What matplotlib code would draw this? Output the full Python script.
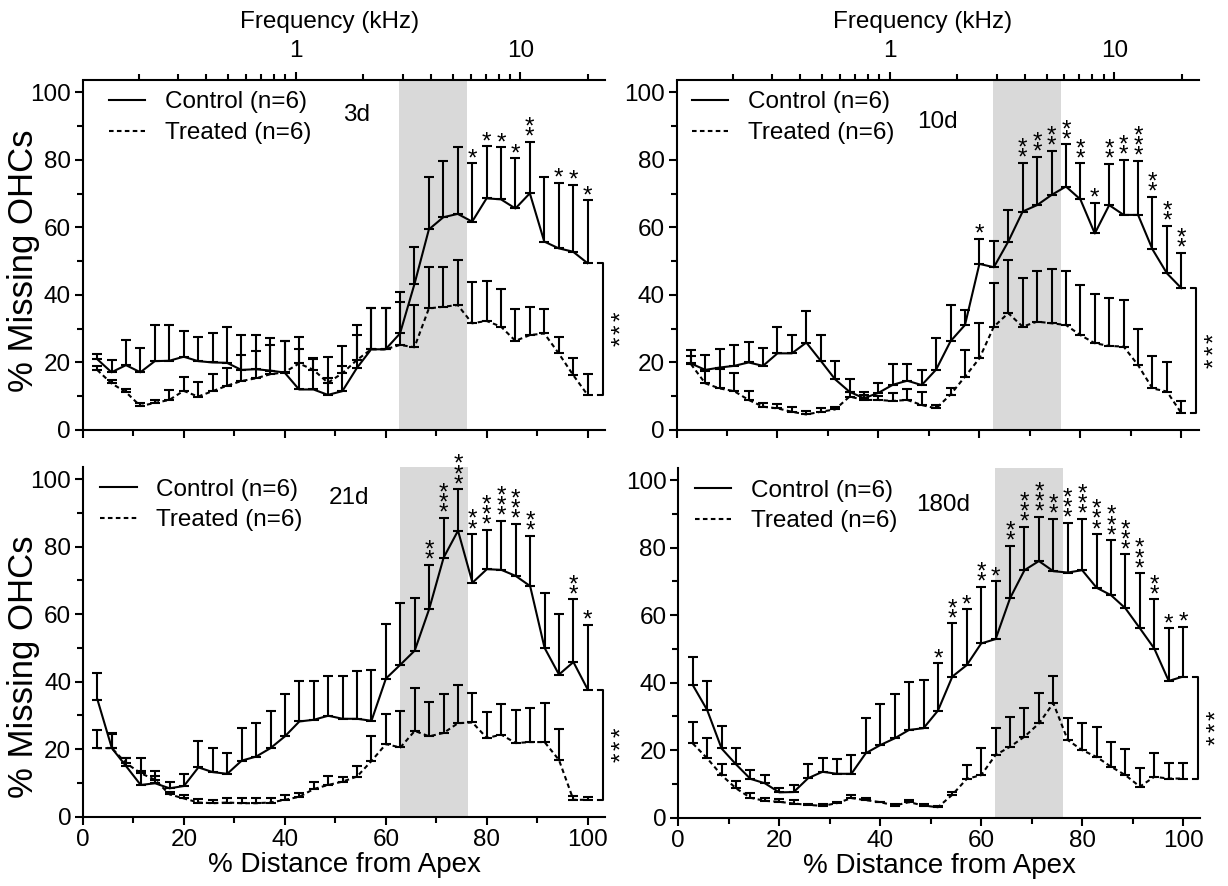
import numpy as np
import matplotlib
matplotlib.use("Agg")
import matplotlib.pyplot as plt
from matplotlib.ticker import FixedLocator, FixedFormatter, NullFormatter

plt.rcParams['font.family'] = ['Liberation Sans', 'DejaVu Sans']

# 35 bins along the cochlea, % distance from apex
distance = np.arange(1, 36) * 100.0 / 35.0

# ---- 3 days -------------------------------------------------------------
ctrl_3d = [21.0, 17.1, 19.2, 17.1, 20.4, 20.5, 21.7, 20.4, 20.0, 19.9, 17.8, 18.0,
           17.6, 17.0, 12.0, 12.0, 10.4, 11.5, 18.3, 23.9, 23.9, 28.6, 43.2, 59.4,
           63.0, 64.0, 61.7, 68.6, 68.3, 65.6, 70.1, 55.8, 53.8, 52.8, 49.4]
ctrl_sem_3d = [1.4, 3.6, 7.5, 7.1, 10.7, 10.6, 7.7, 7.0, 8.6, 10.7, 10.3, 10.1,
               9.5, 9.5, 15.6, 9.4, 11.3, 13.4, 12.8, 12.1, 12.1, 12.4, 10.9, 15.4,
               16.7, 19.9, 17.3, 15.5, 15.4, 14.9, 15.3, 19.2, 19.4, 19.8, 18.7]
trt_3d = [17.8, 13.8, 11.2, 7.1, 8.0, 8.9, 11.6, 9.9, 11.5, 13.1, 14.5, 15.3,
          16.5, 17.1, 19.7, 17.8, 14.0, 16.8, 20.7, 23.9, 23.9, 25.2, 24.5, 36.0,
          36.5, 37.0, 31.6, 32.3, 30.6, 26.4, 28.1, 28.6, 22.7, 16.3, 10.4]
trt_sem_3d = [1.2, 1.0, 0.8, 0.9, 0.9, 2.9, 4.2, 4.4, 5.0, 5.4, 7.7, 8.1,
              8.7, 9.4, 4.3, 3.2, 1.5, 2.2, 7.4, 12.1, 12.1, 12.8, 12.5, 12.2,
              11.9, 13.3, 12.3, 11.9, 11.1, 9.3, 8.4, 7.1, 4.9, 4.9, 6.1]
stars_3d = [0] * 26 + [1, 1, 1, 1, 2, 0, 1, 1, 1]

# ---- 10 days ------------------------------------------------------------
ctrl_10d = [19.7, 17.8, 18.5, 19.0, 20.0, 19.0, 22.7, 22.7, 25.9, 20.5, 15.0, 11.3,
            9.4, 11.0, 13.4, 14.6, 13.3, 17.9, 26.3, 31.1, 49.2, 48.2, 55.8, 64.7,
            66.6, 69.6, 72.1, 68.3, 58.2, 66.6, 63.7, 63.7, 53.5, 46.4, 42.0]
ctrl_sem_10d = [4.0, 4.4, 5.4, 6.2, 6.2, 5.2, 7.9, 5.3, 9.4, 7.5, 5.5, 3.7,
                2.0, 2.8, 6.0, 4.8, 4.5, 9.2, 10.7, 4.4, 7.4, 7.9, 9.4, 14.5,
                14.3, 13.1, 12.5, 10.7, 9.1, 12.2, 16.3, 16.0, 15.6, 14.1, 10.5]
trt_10d = [19.5, 13.8, 12.3, 11.5, 8.9, 6.9, 6.4, 5.4, 4.6, 5.4, 6.1, 9.9,
           8.9, 8.9, 8.6, 8.9, 7.4, 6.4, 10.5, 15.8, 21.2, 30.6, 34.6, 30.6,
           32.1, 31.6, 31.1, 28.1, 25.7, 24.9, 24.7, 19.2, 12.3, 11.4, 5.0]
trt_sem_10d = [2.5, 3.7, 5.7, 5.3, 2.6, 1.0, 1.2, 1.5, 1.0, 1.0, 0.7, 1.5,
               1.6, 1.1, 2.4, 3.1, 4.0, 1.0, 2.0, 7.9, 10.4, 13.0, 15.7, 14.5,
               15.0, 16.1, 16.0, 14.8, 14.5, 14.3, 13.8, 10.6, 9.6, 8.8, 3.7]
stars_10d = [0] * 20 + [1, 0, 0, 2, 2, 2, 2, 2, 1, 2, 2, 3, 2, 2, 2]

# ---- 21 days ------------------------------------------------------------
ctrl_21d = [34.7, 20.3, 14.9, 9.4, 9.9, 8.4, 9.1, 14.6, 13.2, 12.7, 16.6, 17.8,
            20.3, 23.8, 28.2, 28.7, 29.9, 29.0, 29.0, 28.4, 40.9, 45.0, 49.2, 61.5,
            76.7, 84.7, 69.3, 73.3, 73.1, 71.3, 68.3, 50.0, 42.1, 45.8, 37.6]
ctrl_sem_21d = [7.9, 4.5, 2.6, 8.1, 3.7, 1.8, 3.5, 7.9, 7.1, 6.1, 9.6, 9.9,
                10.9, 12.5, 11.9, 11.4, 11.9, 12.6, 14.1, 14.9, 16.2, 18.2, 15.5, 13.1,
                11.9, 12.3, 14.4, 11.7, 14.5, 15.5, 14.9, 16.3, 18.0, 18.6, 19.3]
trt_21d = [20.3, 20.3, 15.8, 12.9, 10.9, 6.6, 5.4, 4.2, 4.0, 4.2, 4.0, 4.0,
           4.2, 5.0, 5.9, 8.2, 9.4, 10.4, 11.9, 16.5, 21.5, 20.5, 25.4, 23.8,
           24.8, 27.7, 27.9, 23.3, 24.3, 21.8, 22.1, 22.1, 16.8, 5.0, 5.0]
trt_sem_21d = [5.4, 4.2, 1.7, 0.6, 1.1, 0.6, 1.0, 0.9, 0.8, 1.4, 1.4, 1.4,
               1.2, 1.4, 1.0, 2.2, 2.8, 1.5, 3.0, 7.5, 8.9, 10.9, 12.7, 10.2,
               11.5, 11.4, 8.7, 7.7, 9.1, 9.9, 10.1, 11.6, 9.2, 1.2, 0.9]
stars_21d = [0] * 23 + [2, 3, 3, 2, 3, 3, 3, 2, 0, 0, 2, 1]

# ---- 180 days -----------------------------------------------------------
ctrl_180d = [39.3, 31.9, 20.5, 15.8, 11.5, 10.2, 7.5, 7.6, 11.7, 13.6, 13.0, 13.0,
             19.1, 21.5, 23.5, 26.0, 26.5, 31.7, 41.8, 45.2, 51.6, 52.9, 65.0, 73.3,
             76.0, 73.0, 72.6, 73.3, 68.1, 65.9, 62.0, 56.1, 50.1, 40.5, 41.8]
ctrl_sem_180d = [8.4, 8.6, 6.7, 4.7, 2.6, 2.4, 1.4, 2.1, 4.1, 4.2, 4.4, 5.6,
                 10.3, 12.1, 13.0, 14.1, 14.3, 14.0, 15.8, 16.6, 16.8, 17.2, 15.6, 12.9,
                 13.1, 15.6, 14.8, 15.3, 15.9, 16.3, 16.0, 16.3, 14.6, 15.6, 14.8]
trt_180d = [22.0, 17.6, 12.6, 8.7, 5.9, 5.0, 4.7, 4.2, 3.8, 3.5, 4.3, 5.8,
            5.2, 4.6, 3.6, 4.6, 3.6, 3.1, 6.8, 11.5, 12.6, 18.6, 21.0, 24.0,
            27.9, 33.9, 23.0, 20.0, 18.0, 15.1, 12.6, 9.2, 12.1, 11.6, 11.6]
trt_sem_180d = [6.4, 5.9, 3.4, 2.3, 1.3, 0.7, 0.8, 1.0, 0.4, 0.7, 0.4, 0.9,
                0.5, 0.1, 0.6, 0.6, 0.6, 0.5, 0.7, 4.0, 7.9, 8.1, 8.9, 8.4,
                8.9, 8.2, 6.4, 8.1, 9.0, 7.2, 7.6, 5.4, 7.1, 4.5, 4.5]
stars_180d = [0] * 17 + [1, 2, 1, 2, 1, 2, 3, 3, 2, 3, 3, 3, 3, 3, 3, 2, 1, 1]

# Frequency-place map: position of 1 kHz and distance per decade
place_1khz = 42.2
per_decade = 44.5
freq_major = [1, 10]
freq_minor = [0.2, 0.3, 0.4, 0.5, 0.6, 0.7, 0.8, 0.9, 2, 3, 4, 5, 6, 7, 8, 9, 20]

# Noise-band region (shaded)
band = (62.7, 76.2)

W, H = 1228, 886
fig = plt.figure(figsize=(W / 100, H / 100), dpi=100)

XLIM = (0, 103.4)
YLIM = (0, 103.5)
AX_W = 522.0
AX_H = 349.5

FS = 17.5
LW = 1.5


def d2f(d):
    return 10 ** ((np.asarray(d, dtype=float) - place_1khz) / per_decade)


def f2d(f):
    f = np.clip(np.asarray(f, dtype=float), 1e-6, None)
    return place_1khz + per_decade * np.log10(f)


def add_axes_px(x0, y_base):
    return fig.add_axes([x0 / W, 1 - y_base / H, AX_W / W, AX_H / H])


def draw_panel(ax, ctrl, ctrl_sem, trt, trt_sem, stars, tag, tag_xy,
               leg_xy, top_axis, ylabel_y, show_xlabel):
    ctrl = np.asarray(ctrl)
    trt = np.asarray(trt)
    ctrl_sem = np.asarray(ctrl_sem)
    trt_sem = np.asarray(trt_sem)

    ax.axvspan(band[0], band[1], color='#d9d9d9', lw=0, zorder=0)

    eb = dict(fmt='none', ecolor='k', elinewidth=LW, capsize=3.4,
              capthick=LW, zorder=2)
    ax.errorbar(distance, trt, yerr=[np.zeros_like(trt), trt_sem], **eb)
    ax.errorbar(distance, ctrl, yerr=[np.zeros_like(ctrl), ctrl_sem], **eb)
    ax.plot(distance, ctrl, color='k', lw=LW, label='Control (n=6)', zorder=3)
    ax.plot(distance, trt, color='k', lw=LW, ls=(0, (2.2, 1.6)),
            label='Treated (n=6)', zorder=3)

    # significance stars stacked above the control error bars
    tops = ctrl + ctrl_sem
    for xi, yi, n in zip(distance, tops, stars):
        for k in range(n):
            ax.annotate('*', xy=(xi, yi), xytext=(0, -1.5 + 7.3 * k),
                        textcoords='offset points', ha='center',
                        va='baseline', fontsize=FS, annotation_clip=False)

    # bracket comparing the two groups at the base end
    xb = 103.0
    ax.plot([xb - 1.0, xb, xb, xb - 1.0],
            [ctrl[-1], ctrl[-1], trt[-1], trt[-1]],
            color='k', lw=LW, clip_on=False, zorder=3)
    ymid = 0.5 * (ctrl[-1] + trt[-1])
    for k in (-1, 0, 1):
        ax.annotate('*', xy=(105.4, ymid), xytext=(5.0, 9.0 * k),
                    textcoords='offset points', ha='center', va='center',
                    rotation=90, fontsize=FS, annotation_clip=False)

    ax.text(tag_xy[0], tag_xy[1], tag, fontsize=FS, ha='left', va='center')

    leg = ax.legend(loc='upper left', bbox_to_anchor=leg_xy,
                    bbox_transform=ax.transData, frameon=False,
                    fontsize=FS, handlelength=1.5, handletextpad=0.8,
                    labelspacing=0.36, borderpad=0.0, borderaxespad=0.0)
    for line in leg.get_lines():
        line.set_linewidth(LW)

    ax.set_xlim(*XLIM)
    ax.set_ylim(*YLIM)
    ax.set_xticks([0, 20, 40, 60, 80, 100])
    ax.set_xticks([10, 30, 50, 70, 90], minor=True)
    ax.set_yticks([0, 20, 40, 60, 80, 100])
    ax.set_yticks([10, 30, 50, 70, 90], minor=True)
    ax.tick_params(which='major', direction='out', length=5.5, width=LW,
                   labelsize=FS, pad=3)
    ax.tick_params(which='minor', direction='out', length=4, width=LW)
    for s in ('top', 'right'):
        ax.spines[s].set_visible(False)
    for s in ('left', 'bottom'):
        ax.spines[s].set_linewidth(LW)

    if show_xlabel:
        ax.set_xlabel('% Distance from Apex', fontsize=20, labelpad=1)
    else:
        ax.xaxis.set_major_formatter(NullFormatter())
    if ylabel_y is not None:
        ax.set_ylabel('% Missing OHCs', fontsize=25)
        ax.yaxis.set_label_coords(-0.082, ylabel_y)

    if top_axis:
        sec = ax.secondary_xaxis('top', functions=(d2f, f2d))
        sec.xaxis.set_major_locator(FixedLocator(freq_major))
        sec.xaxis.set_major_formatter(FixedFormatter([str(f) for f in freq_major]))
        sec.xaxis.set_minor_locator(FixedLocator(freq_minor))
        sec.xaxis.set_minor_formatter(NullFormatter())
        sec.tick_params(which='major', direction='out', length=5.5, width=LW,
                        labelsize=FS, pad=8)
        sec.tick_params(which='minor', direction='out', length=4, width=LW)
        sec.spines['top'].set_linewidth(LW)
        ax.text(0.472, 1.167, 'Frequency (kHz)', transform=ax.transAxes,
                fontsize=FS, ha='center', va='center')


panels = [
    (add_axes_px(82.7, 430.0), ctrl_3d, ctrl_sem_3d, trt_3d, trt_sem_3d, stars_3d,
     '3d', (51.5, 93.3), (5.2, 100.3), True, 0.484, False),
    (add_axes_px(676.5, 430.0), ctrl_10d, ctrl_sem_10d, trt_10d, trt_sem_10d, stars_10d,
     '10d', (47.7, 91.3), (3.0, 100.3), True, None, False),
    (add_axes_px(83.0, 816.7), ctrl_21d, ctrl_sem_21d, trt_21d, trt_sem_21d, stars_21d,
     '21d', (48.6, 94.3), (3.4, 100.1), False, 0.43, True),
    (add_axes_px(678.3, 817.7), ctrl_180d, ctrl_sem_180d, trt_180d, trt_sem_180d, stars_180d,
     '180d', (47.1, 92.6), (3.3, 100.1), False, None, True),
]

for (ax, c, cs, t, ts, st, tag, tag_xy, leg_xy, top, ylab, xlab) in panels:
    draw_panel(ax, c, cs, t, ts, st, tag, tag_xy, leg_xy, top, ylab, xlab)

fig.savefig('out.png', dpi=100)
